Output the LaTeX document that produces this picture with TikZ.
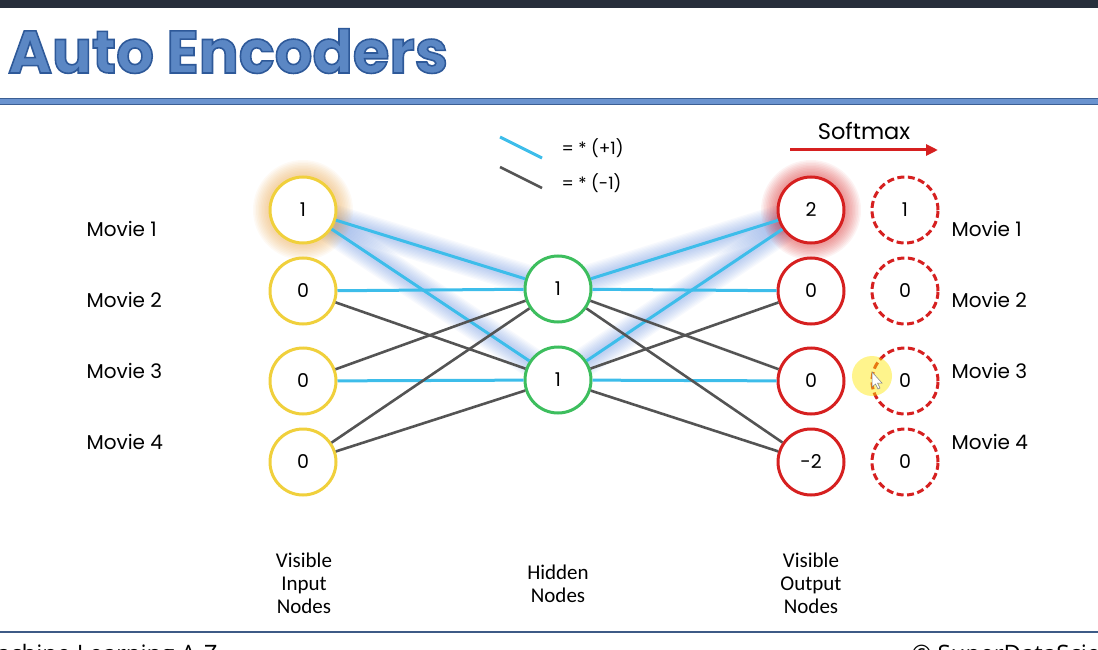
\documentclass[tikz,border=0pt]{standalone}
\usepackage{fontspec}
\setmainfont{Poppins}
\newfontfamily\labelfont{Carlito}
\newfontfamily\footfont{Open Sans}
\usetikzlibrary{arrows.meta,backgrounds}
\definecolor{topbar}{HTML}{272E3B}
\definecolor{titlefill}{HTML}{5B87C4}
\definecolor{titleline}{HTML}{2F5A99}
\definecolor{rulefill}{HTML}{6A93CF}
\definecolor{ruleline}{HTML}{3C5F94}
\definecolor{footline}{HTML}{3D5A86}
\definecolor{inyellow}{HTML}{F0D03C}
\definecolor{hidgreen}{HTML}{3DBE5E}
\definecolor{outred}{HTML}{D62020}
\definecolor{wblue}{HTML}{3DBDEA}
\definecolor{wgray}{HTML}{545454}
\definecolor{glowblue}{HTML}{4F7FD9}
\definecolor{gloworange}{HTML}{E8A040}
\tikzset{
  innode/.style={circle,draw=inyellow,line width=3pt,fill=white,minimum size=66pt,
    inner sep=0pt,font=\fontsize{19}{19}\selectfont},
  hidnode/.style={innode,draw=hidgreen},
  outnode/.style={innode,draw=outred},
  smnode/.style={innode,draw=outred,dash pattern=on 7pt off 3.5pt},
  plus/.style={draw=wblue,line width=3pt},
  minus/.style={draw=wgray,line width=2.6pt},
  movie/.style={anchor=west,font=\fontsize{20}{20}\selectfont},
  layer/.style={align=center,font=\labelfont\fontsize{21}{23}\selectfont},
  titletext/.style={anchor=base west,inner sep=0pt,font=\fontsize{60}{60}\selectfont\bfseries}
}
% outlined title: fill and stroke the glyphs
\def\titlestr{\special{pdf:literal direct 0.18 0.35 0.6 RG 1.6 w 2 Tr}%
  \scalebox{0.99}[1]{Auto Encoders}\special{pdf:literal direct 0 Tr}}

\begin{document}
\begin{tikzpicture}[x=1pt,y=-1pt]
    \useasboundingbox (0,0) rectangle (1098,650);
    \clip (0,0) rectangle (1098,650);
    % header
    \fill[topbar] (0,0) rectangle (1098,8);
    \node[titletext,text=titlefill] (title) at (8,73) {\titlestr};
    \fill[rulefill] (0,99) rectangle (1098,104);
    \draw[ruleline,line width=1pt] (0,99) -- (1098,99) (0,104.5) -- (1098,104.5);

    % legend
    \draw[plus] (500,137) -- (542,158);
    \draw[minus] (500,167) -- (542,188);
    \node[anchor=west,font=\fontsize{17}{17}\selectfont] (legplus) at (558,148) {= * (+1)};
    \node[anchor=west,font=\fontsize{17}{17}\selectfont] (legminus) at (558,183) {= * (-1)};

    % softmax
    \node[font=\fontsize{22.5}{22.5}\selectfont] (softmax) at (864,131) {Softmax};
    \coordinate (smstart) at (790,150);
    \coordinate (smend) at (938,150);
    \draw[outred,line width=3pt,-{Triangle[length=12pt,width=11pt]}] (smstart) -- (smend);

    % nodes
    \node[innode] (in1) at (303,210) {1};
    \node[innode] (in2) at (303,291) {0};
    \node[innode] (in3) at (303,381) {0};
    \node[innode] (in4) at (303,462) {0};
    \node[hidnode] (h1) at (558,289) {1};
    \node[hidnode] (h2) at (558,380) {1};
    \node[outnode] (out1) at (811,210) {2};
    \node[outnode] (out2) at (811,291) {0};
    \node[outnode] (out3) at (811,381) {0};
    \node[outnode] (out4) at (811,462) {-2};
    \node[smnode] (sm1) at (905,210) {1};
    \node[smnode] (sm2) at (905,291) {0};
    \node[smnode] (sm3) at (905,381) {0};
    \node[smnode] (sm4) at (905,462) {0};

    % weights
    \foreach \a/\b/\w in {in1/h1/plus,in1/h2/plus,in2/h1/plus,in2/h2/minus,
        in3/h1/minus,in3/h2/plus,in4/h1/minus,in4/h2/minus,
        h1/out1/plus,h2/out1/plus,h1/out2/plus,h2/out2/minus,
        h1/out3/minus,h2/out3/plus,h1/out4/minus,h2/out4/minus}
        \draw[\w] (\a) -- (\b);

    % glow
    \begin{scope}[on background layer]
        \foreach \a/\b in {in1/h1,in1/h2,h1/out1,h2/out1}
            \foreach \k in {1,...,10}
                \draw[glowblue,line width=4+2.6*\k pt,opacity=0.045] (\a.center) -- (\b.center);
        \foreach \k in {1,...,10}
            \fill[gloworange,opacity=0.055] (in1) circle (35pt+1.5pt*\k);
        \foreach \k in {1,...,10}
            \fill[outred,opacity=0.055] (out1) circle (35pt+1.5pt*\k);
    \end{scope}

    % movie labels
    \foreach \i/\y in {1/229,2/300,3/371,4/442} {
        \node[movie] (movl\i) at (83,\y) {Movie \i};
        \node[movie] (movr\i) at (948,\y) {Movie \i};
    }

    % layer labels
    \node[layer] (inlab) at (304,583) {Visible\\Input\\Nodes};
    \node[layer] (hidlab) at (558,584) {Hidden\\Nodes};
    \node[layer] (outlab) at (811,583) {Visible\\Output\\Nodes};

    % pointer highlight
    \fill[yellow!90!orange,opacity=0.45] (872,376) circle (20pt);
    \draw[gray,fill=white,line width=0.5pt] (872,372) -- (872,387) -- (875.5,384) -- (878,389) -- (880,388) -- (877.5,383) -- (882,383) -- cycle;

    % footer
    \draw[footline,line width=2.5pt] (0,632) -- (1098,632);
    \node[anchor=base east,font=\footfont\fontsize{24}{24}\selectfont] (course) at (221,662) {Machine Learning A-Z};
    \node[anchor=base west,font=\footfont\fontsize{24}{24}\selectfont] (copyr) at (908,662) {\textcopyright{} SuperDataScience};
\end{tikzpicture}
\end{document}
